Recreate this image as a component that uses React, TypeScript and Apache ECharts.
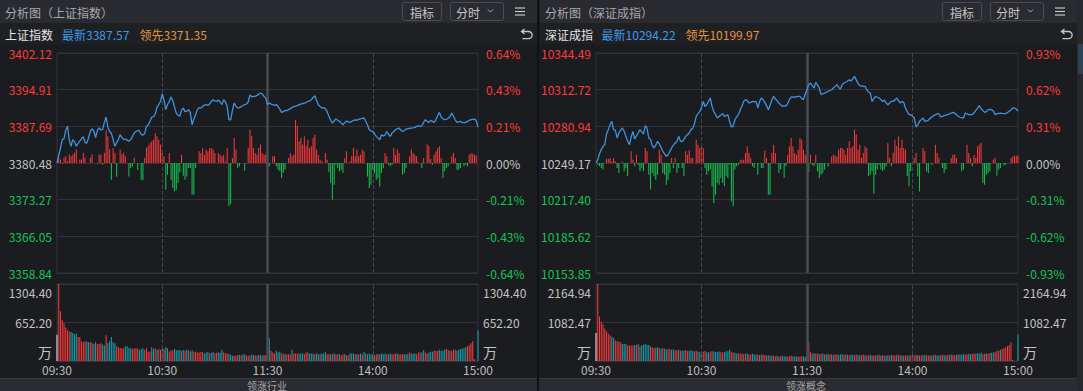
import React, { useEffect, useRef } from 'react';
import * as echarts from 'echarts';

const FONT = '"Noto Sans CJK SC","Noto Sans",sans-serif';
const RED = '#ff3a3a';
const GREEN = '#16c452';
const GRAY = '#c3c3c3';
const GRIDC = '#323338';

// ---------- categories ----------
const times: string[] = [];
const pad = (n: number) => (n < 10 ? '0' + n : '' + n);
for (let m = 0; m <= 120; m++) { const t = 570 + m; times.push(pad(Math.floor(t / 60)) + ':' + pad(t % 60)); }
for (let m = 1; m <= 120; m++) { const t = 780 + m; times.push(pad(Math.floor(t / 60)) + ':' + pad(t % 60)); }
const tickTimes = ['09:30', '10:30', '11:30', '14:00', '15:00'];
const dividerTimes = ['10:30', '11:30', '14:00'];

// ---------- texts ----------
const shTexts = { title: '分析图（上证指数）', name: '上证指数', latest: '3387.57', lead: '3371.35' };
const szTexts = { title: '分析图（深证成指）', name: '深证成指', latest: '10294.22', lead: '10199.97' };
const bottomTabs = ['领涨行业', '领涨概念'];

// ---------- axis extents ----------
const shPrevClose = 3380.48;
const shPointRange = 21.64;
const shPctRange = 0.64;
const shVolMax = 1304.40;
const szPrevClose = 10249.17;
const szPointRange = 95.32;
const szPctRange = 0.93;
const szVolMax = 2164.94;

// ---------- 上证 data ----------
// change vs previous close (points)
const shChange = [
  0, 1.5, 3.0, 4.6, 4.8, 6.5, 7.2, 4.5, 3.3, 4.6,
  4.2, 3.3, 3.8, 4.3, 4.8, 5.2, 4.0, 3.9, 5.0, 6.2,
  6.7, 6.3, 5.0, 6.4, 6.9, 6.5, 6.6, 8.0, 9.05, 7.0,
  6.2, 5.8, 4.6, 3.3, 4.0, 4.6, 5.6, 5.0, 4.6, 4.7,
  4.5, 4.3, 4.6, 5.2, 5.9, 6.2, 6.4, 6.3, 5.6, 5.5,
  5.8, 7.2, 7.5, 8.2, 9.0, 9.1, 9.6, 11.0, 11.5, 12.1,
  13.6, 12.4, 10.5, 11.5, 12.1, 13.0, 12.3, 11.0, 9.8, 9.4,
  9.2, 10.4, 10.8, 10.1, 10.2, 10.5, 9.9, 7.5, 8.6, 9.5,
  10.5, 10.9, 10.8, 11.1, 11.4, 11.5, 11.3, 11.6, 12.1, 12.45,
  12.2, 12.1, 12.4, 12.0, 11.5, 12.45, 12.0, 11.2, 8.5, 8.5,
  10.3, 11.8, 11.2, 10.8, 10.9, 11.1, 11.3, 11.5, 11.6, 12.0,
  13.4, 13.0, 13.1, 13.1, 13.3, 13.5, 13.77, 13.6, 13.1, 12.8,
  11.5, 11.8, 11.6, 11.5, 11.3, 11.5, 11.1, 10.6, 9.96, 10.1,
  10.3, 10.3, 10.5, 10.7, 10.9, 11.1, 11.2, 11.3, 11.47, 11.6,
  11.7, 11.8, 11.9, 12.1, 12.2, 12.45, 12.9, 13.24, 12.3, 11.47,
  11.1, 10.8, 10.9, 10.7, 10.1, 9.2, 8.4, 7.87, 8.3, 8.65,
  8.4, 8.2, 7.9, 7.53, 7.9, 8.3, 8.1, 8.0, 8.2, 8.4,
  8.5, 8.4, 8.6, 8.7, 8.8, 8.85, 8.2, 7.53, 6.55, 6.3,
  6.2, 5.8, 5.24, 4.9, 4.58, 5.57, 5.3, 5.5, 6.2, 5.6,
  5.24, 5.9, 6.2, 6.55, 6.7, 6.88, 6.5, 6.2, 6.4, 6.69,
  6.7, 6.8, 6.88, 6.9, 7.0, 7.2, 7.3, 7.2, 7.33, 8.0,
  8.52, 8.2, 8.0, 8.4, 8.2, 8.0, 8.5, 9.3, 9.96, 9.05,
  8.7, 8.52, 8.6, 8.8, 9.1, 9.83, 9.2, 8.5, 8.0, 8.1,
  8.2, 8.0, 7.9, 8.0, 8.2, 8.4, 8.52, 8.6, 8.65, 8.3,
  7.09,
];
// red/green momentum bars (%)
const shBars = [
  0, 0.03, 0.02, -0.005, 0.03, 0.04, 0.01, 0.05, 0.04, 0.05,
  0.06, 0.08, 0, 0.02, 0.02, 0.06, 0.03, 0, 0, 0.03,
  0.05, 0, 0, -0.005, 0.05, 0.05, -0.01, 0.06, 0.19, 0.155,
  0.08, -0.097, 0.087, 0.06, -0.08, 0, 0.078, 0.05, 0.06, 0.04,
  0, -0.078, -0.03, -0.02, 0.03, 0, -0.04, 0, -0.097, -0.1,
  0.03, 0.09, 0.1, 0.116, 0.126, 0.136, 0.175, 0.155, 0.136, 0.107,
  0.058, 0.039, -0.155, -0.068, 0.058, -0.097, -0.145, -0.165, -0.155, -0.116,
  -0.054, 0.048, -0.074, -0.097, -0.078, -0.029, -0.029, -0.184, -0.184, -0.029,
  0, 0.068, 0.058, 0.087, 0.048, 0.078, 0.068, 0.087, 0.087, 0.078,
  0.058, 0, 0.058, 0.048, 0.039, 0.048, 0.01, 0.087, -0.25, -0.24,
  0.029, 0.145, 0.078, -0.029, -0.019, 0, 0, -0.045, 0, 0.087,
  0.194, 0.155, 0.087, 0.058, 0.048, 0.087, 0.107, 0.058, 0.048, 0.05,
  0, -0.019, 0, 0.039, 0.039, -0.019, -0.039, -0.048, -0.087, -0.058,
  -0.039, 0, 0.029, 0.058, 0.039, 0.048, 0.252, 0.217, 0.126, 0.145,
  0.107, 0.155, 0.097, 0.136, 0.087, 0.097, 0.145, 0.165, 0.078, 0.048,
  0.019, 0.01, 0, 0.058, 0.019, -0.054, -0.116, -0.213, -0.126, -0.01,
  -0.029, -0.048, -0.039, -0.058, 0.029, 0.068, 0, 0.01, 0.039, 0.087,
  0.039, 0.078, 0.039, 0.048, 0.078, 0.068, 0, -0.078, -0.145, -0.126,
  -0.039, -0.058, -0.097, -0.087, -0.136, -0.058, -0.029, 0.058, 0.039, -0.01,
  -0.019, -0.01, 0.087, 0.048, 0.078, 0.058, 0, -0.068, -0.058, -0.029,
  0, 0.039, 0.078, 0.058, 0.048, 0.039, 0.005, 0, -0.029, 0.029,
  0, 0.107, 0.097, 0.023, -0.01, 0.048, 0.068, 0.087, 0.097, 0.029,
  -0.087, -0.048, -0.029, -0.019, 0, 0.039, 0.058, 0.029, -0.039, -0.039,
  -0.029, 0, -0.019, -0.01, -0.019, 0.048, 0.058, 0.054, 0.048, 0.043,
  0,
];
// volume (万)
const shVol = [
  446, 1304.4, 841, 696, 638, 568, 522, 500, 493, 475,
  452, 464, 406, 406, 336, 319, 330, 330, 319, 319,
  310, 290, 319, 290, 290, 301, 278, 261, 435, 301,
  336, 406, 319, 301, 249, 232, 214, 214, 214, 249,
  249, 220, 214, 203, 214, 214, 214, 186, 203, 214,
  186, 214, 162, 162, 232, 203, 214, 186, 203, 186,
  214, 203, 232, 214, 162, 180, 174, 203, 180, 180,
  186, 168, 186, 174, 191, 180, 162, 180, 157, 157,
  145, 145, 151, 157, 128, 145, 151, 133, 139, 151,
  133, 139, 145, 139, 191, 145, 133, 128, 116, 110,
  87, 87, 93, 99, 104, 99, 110, 116, 93, 87,
  93, 104, 99, 99, 87, 104, 99, 93, 99, 99,
  99, 388, 174, 145, 128, 174, 145, 157, 128, 128,
  116, 116, 116, 116, 191, 128, 128, 128, 128, 128,
  128, 116, 145, 145, 128, 128, 128, 116, 128, 116,
  116, 128, 128, 157, 116, 116, 116, 116, 128, 116,
  116, 116, 99, 116, 116, 99, 99, 128, 128, 128,
  116, 116, 116, 128, 116, 157, 128, 116, 128, 116,
  116, 99, 116, 116, 116, 128, 116, 128, 116, 116,
  128, 116, 116, 128, 128, 116, 116, 116, 116, 116,
  116, 145, 128, 128, 128, 116, 145, 145, 145, 186,
  145, 128, 145, 157, 157, 174, 174, 174, 191, 174,
  174, 191, 203, 191, 174, 174, 191, 191, 174, 191,
  203, 214, 214, 232, 250, 272, 301, 336, 29, 0,
  522,
];
// w = auction, r = up minute, t = down minute
const shVolColors = [
  'wrrrrrrrtt', 'ttrrrrrttr', 'rttrrrttrt', 'ttttrrrrrt', 'tttrrrrttt',
  'rrrrttrtrr', 'trttrrrttt', 'trtrtrttrr', 'rrrrtttrtt', 'rrtttrrrtt',
  'trrrtrttrr', 'rttrtrttrr', 'rtrrrtttrr', 'trrrtrrrtt', 'trrrtttrtt',
  'rtttrrtrtr', 'rtrrtrrttt', 'rtrtrttrtt', 'trrtrtttrt', 'trrrtrrrtt',
  'trtttrrrtt', 'rrtttrrrtt', 'ttrrtrrrtt', 'ttttrrrrrr', 't',
].join('');

// ---------- 深证 data ----------
const szChange = [
  0, 2.9, 8.0, 11.6, 14.4, 16.0, 25.4, 28.9, 33.2, 36.1,
  28.9, 28.5, 21.7, 26.0, 28.5, 30.3, 27.5, 23.1, 19.0, 15.9,
  22.5, 27.4, 20.8, 23.5, 26.0, 28.9, 27.0, 25.0, 32.3, 30.5,
  21.7, 20.5, 15.0, 13.0, 15.5, 18.8, 16.5, 13.5, 10.1, 8.0,
  5.8, 7.2, 10.0, 13.0, 15.5, 17.3, 18.7, 23.1, 19.0, 18.5,
  20.2, 23.1, 24.5, 26.0, 28.9, 30.0, 34.0, 40.4, 42.7, 44.8,
  48.0, 53.4, 49.0, 50.5, 53.4, 56.3, 49.1, 44.5, 41.9, 39.0,
  40.4, 41.5, 42.7, 40.5, 41.0, 41.9, 36.0, 31.2, 32.0, 37.5,
  40.0, 41.9, 46.0, 49.1, 53.4, 54.9, 54.0, 52.0, 52.5, 53.4,
  53.0, 53.4, 47.7, 53.0, 56.3, 55.0, 52.5, 49.5, 46.2, 50.0,
  54.5, 57.8, 55.5, 54.0, 52.0, 50.5, 49.1, 49.5, 49.3, 51.5,
  54.9, 57.2, 57.2, 56.8, 57.5, 57.8, 57.8, 56.0, 54.9, 60.0,
  63.5, 67.9, 69.3, 67.0, 65.0, 69.9, 67.5, 65.0, 59.2, 60.0,
  60.6, 61.5, 62.1, 62.8, 63.5, 65.0, 66.4, 67.9, 65.5, 64.1,
  67.9, 69.3, 70.0, 70.8, 72.2, 71.0, 73.0, 75.1, 72.0, 69.0,
  67.0, 66.7, 66.5, 66.4, 63.5, 61.5, 60.6, 53.4, 55.5, 57.8,
  57.0, 56.3, 55.0, 53.4, 54.5, 52.0, 50.5, 52.0, 53.4, 53.4,
  54.5, 56.3, 54.0, 52.0, 53.4, 52.5, 47.7, 44.5, 41.9, 41.9,
  40.5, 39.0, 31.2, 33.0, 36.1, 37.5, 39.0, 36.1, 36.5, 37.0,
  38.5, 39.9, 41.0, 41.9, 42.5, 42.7, 39.9, 40.5, 41.0, 41.5,
  41.9, 42.5, 43.3, 43.9, 43.0, 41.9, 40.5, 39.6, 39.3, 39.0,
  43.3, 42.5, 41.9, 42.0, 41.9, 43.5, 45.6, 47.5, 49.7, 47.0,
  45.6, 43.9, 44.5, 46.2, 46.5, 46.2, 45.0, 41.9, 42.5, 43.0,
  43.3, 43.0, 42.8, 42.7, 43.8, 44.8, 46.0, 47.7, 47.5, 46.8,
  45.05,
];
const szBars = [
  0, -0.014, -0.028, -0.042, -0.056, 0, 0.034, 0.034, 0.042, 0.01,
  0.042, 0.014, -0.042, -0.085, 0, 0.01, -0.07, -0.042, -0.113, 0,
  0.099, 0.028, -0.028, 0.07, -0.014, -0.07, -0.042, -0.07, 0.127, 0.099,
  -0.099, -0.225, -0.085, -0.113, -0.141, -0.099, 0.113, 0.07, -0.085, -0.099,
  -0.183, -0.141, -0.085, 0.042, -0.042, 0.042, -0.085, -0.042, 0, -0.042,
  -0.113, 0.099, 0.07, 0.107, 0.042, 0.042, 0, 0.197, 0.155, 0.127,
  0.141, 0.127, -0.042, -0.099, -0.07, -0.056, -0.197, -0.338, -0.268, -0.169,
  -0.183, -0.127, -0.169, -0.197, -0.113, -0.127, -0.014, -0.324, -0.366, -0.056,
  -0.028, -0.014, 0.023, 0.028, 0.028, 0.085, 0.141, 0.085, 0.042, -0.028,
  -0.042, 0, -0.099, 0, -0.042, -0.042, 0.104, 0.042, -0.268, -0.268,
  0.085, 0.155, 0.085, 0, -0.085, -0.056, 0, -0.127, -0.028, 0.07,
  0.141, 0.211, 0.141, 0.085, 0.07, 0.113, 0.211, 0.197, 0.113, 0.07,
  0.056, -0.079, 0.07, -0.014, -0.028, 0.07, -0.07, -0.127, -0.099, -0.085,
  -0.056, 0, -0.028, 0, 0.056, 0.07, 0.062, 0.056, 0.113, 0.127,
  0.127, 0.113, 0.07, 0.127, 0.183, 0.127, 0.141, 0.282, 0.24, 0.113,
  0.155, 0.042, 0.085, 0.141, 0.127, -0.113, -0.099, -0.07, -0.259, -0.099,
  -0.056, -0.014, -0.056, -0.07, -0.056, -0.028, 0.169, 0.042, -0.028, 0.085,
  0.197, 0.141, 0.225, 0.127, 0.197, 0.127, 0.113, -0.113, -0.197, -0.07,
  0, 0.042, 0.085, -0.113, -0.24, 0, 0.127, 0.099, -0.07, -0.085,
  0, -0.014, 0, 0.155, 0.085, 0.042, 0, -0.042, -0.085, -0.056,
  0, 0, 0.042, 0.07, 0.07, 0.042, 0, 0, -0.07, -0.056,
  0, 0.155, 0.085, 0.042, -0.028, 0.07, 0.042, 0.141, 0.155, 0.169,
  -0.169, -0.183, -0.099, -0.085, -0.07, 0, 0.028, 0.042, -0.107, -0.056,
  -0.042, 0, -0.022, -0.014, 0, 0, 0.042, 0.056, 0.062, 0.062,
  0.062,
];
const szVol = [
  789, 2164.94, 1251, 1107, 1030, 914, 837, 770, 722, 683,
  654, 577, 558, 548, 529, 481, 481, 481, 433, 433,
  433, 433, 452, 452, 481, 414, 433, 452, 481, 452,
  452, 414, 385, 366, 375, 385, 366, 346, 366, 346,
  327, 337, 346, 317, 327, 298, 308, 317, 298, 289,
  298, 308, 279, 289, 298, 279, 269, 289, 260, 250,
  269, 260, 279, 250, 240, 260, 279, 269, 250, 260,
  269, 250, 240, 250, 269, 279, 318, 260, 240, 231,
  212, 221, 202, 212, 193, 202, 212, 183, 193, 202,
  183, 173, 183, 164, 173, 183, 164, 154, 164, 145,
  154, 145, 135, 145, 125, 135, 145, 125, 135, 125,
  135, 145, 125, 135, 125, 116, 125, 135, 125, 116,
  125, 510, 260, 212, 221, 202, 212, 193, 202, 212,
  183, 193, 202, 183, 193, 173, 183, 193, 173, 183,
  193, 173, 183, 173, 164, 183, 173, 164, 183, 164,
  173, 164, 183, 164, 154, 164, 173, 154, 164, 154,
  164, 173, 154, 164, 154, 145, 164, 154, 173, 164,
  154, 164, 173, 154, 164, 145, 154, 164, 154, 164,
  164, 154, 173, 164, 154, 164, 154, 173, 164, 154,
  164, 154, 164, 173, 164, 154, 164, 173, 164, 164,
  173, 164, 183, 173, 164, 173, 183, 173, 183, 193,
  183, 193, 202, 193, 202, 212, 202, 221, 212, 231,
  193, 202, 212, 202, 221, 231, 240, 260, 279, 298,
  318, 337, 356, 385, 420, 452, 530, 29, 0, 0,
  741,
];
const szVolColors = [
  'wrrrrrrrrt', 'trrrrtttrr', 'rrtrtrtttt', 'trrrttrtrt', 'trrttrrtrt',
  'trrtttrrtt', 'trrttrrttt', 'trrttttrrt', 'trrrtrtrrt', 'ttrrtrrtrt',
  'trrtrrtttr', 'rrttrtrrtt', 'trrttrrtrt', 'rttrrtrrtt', 'trrtrttrrt',
  'trrtrrttrr', 'trtrrttrtr', 'rtrrttrrtr', 'trrtrrttrr', 'trtrttrrtt',
  'rrtrrtrttt', 'rrttrrrttt', 'rrtrrttrrr', 'trrrrrrrrr', 't',
].join('');

// ---------- custom icon ----------
echarts.graphic.registerShape(
  'undoIcon',
  echarts.graphic.extendPath('M3.5 0 L0.5 2.5 L3.5 5 M0.8 2.5 L7.5 2.5 A3.6 3.6 0 0 1 7.5 9.7 L1.5 9.7', {}) as any
);

const VOL_COLOR: Record<string, string> = { w: '#f2f2f2', r: '#ff3b3b', t: '#10a6b6' };

type Panel = {
  change: number[]; bars: number[]; vol: number[]; volColors: string;
  base: number; range: number; pct: number; volMax: number;
  left: number; width: number;
};

const dividerLines = () =>
  dividerTimes.map((t) => ({
    xAxis: t,
    lineStyle: t === '11:30'
      ? { type: 'solid', color: '#4b4c51', width: 2.5 }
      : { type: [4, 2], color: '#46474c', width: 1 },
  }));

const markLineCfg = () => ({
  symbol: 'none', silent: true, label: { show: false },
  emphasis: { disabled: true }, animation: false, data: dividerLines(),
});

function buildPanel(p: Panel, gi: number) {
  const priceStep = p.range / 3;
  const pctStep = p.pct / 3;
  const volStep = p.volMax / 2;
  const xi = gi * 2;
  const yi = gi * 4;
  const signColor = (v: any) => {
    const n = parseFloat(v);
    return n > 0.01 ? RED : n < -0.01 ? GREEN : GRAY;
  };
  const grids = [
    { left: p.left, top: 53, width: p.width, height: 220, show: true, borderColor: GRIDC, borderWidth: 1, backgroundColor: 'transparent' },
    { left: p.left, top: 284, width: p.width, height: 77, show: true, borderColor: GRIDC, borderWidth: 1, backgroundColor: 'transparent' },
  ];
  const xBase = {
    type: 'category', data: times, boundaryGap: false,
    axisLine: { show: false }, axisTick: { show: false }, splitLine: { show: false },
  };
  const xAxes = [
    { ...xBase, gridIndex: xi, axisLabel: { show: false } },
    {
      ...xBase, gridIndex: xi + 1,
      axisLabel: {
        show: true, interval: (_i: number, v: string) => tickTimes.includes(v),
        color: '#bdbdbd', fontSize: 12, fontFamily: FONT, margin: 2, lineHeight: 13,
        showMinLabel: true, showMaxLabel: true,
      },
    },
  ];
  const yCommon = {
    type: 'value', axisLine: { show: false }, axisTick: { show: false },
  };
  const volRich = {
    t: { padding: [17, 0, 0, 0], fontSize: 12, color: GRAY, fontFamily: FONT },
    u: { padding: [0, 0, 19, 0], fontSize: 14, color: GRAY, fontFamily: FONT },
  };
  const volFmt = (v: number) => {
    const k = Math.round(v);
    if (k === 0) return '{u|万}';
    if (k === 2) return '{t|' + p.volMax.toFixed(2) + '}';
    return (volStep).toFixed(2);
  };
  const yAxes = [
    {
      ...yCommon, gridIndex: xi, position: 'left', min: -3, max: 3, interval: 1,
      splitLine: { show: true, lineStyle: { color: GRIDC } },
      axisLabel: {
        margin: 5, fontSize: 12, fontFamily: FONT,
        formatter: (v: number) => (p.base + Math.round(v) * priceStep).toFixed(2),
        color: signColor,
      },
    },
    {
      ...yCommon, gridIndex: xi, position: 'right', min: -3, max: 3, interval: 1,
      splitLine: { show: false },
      axisLabel: {
        margin: 8, fontSize: 12, fontFamily: FONT,
        formatter: (v: number) => (Math.round(v) * pctStep).toFixed(2) + '%',
        color: signColor,
      },
    },
    {
      ...yCommon, gridIndex: xi + 1, position: 'left', min: 0, max: 2, interval: 1,
      splitLine: { show: true, lineStyle: { color: GRIDC } },
      axisLabel: { margin: 5, fontSize: 12, fontFamily: FONT, color: GRAY, formatter: volFmt, rich: volRich, showMinLabel: true, showMaxLabel: true },
    },
    {
      ...yCommon, gridIndex: xi + 1, position: 'right', min: 0, max: 2, interval: 1,
      splitLine: { show: false },
      axisLabel: { margin: 5, fontSize: 12, fontFamily: FONT, color: GRAY, formatter: volFmt, rich: volRich, showMinLabel: true, showMaxLabel: true },
    },
  ];
  const series = [
    {
      type: 'bar', xAxisIndex: xi, yAxisIndex: yi, barWidth: 1, clip: false,
      data: p.bars.map((v) => v / pctStep),
      itemStyle: { color: (q: any) => (q.value >= 0 ? RED : GREEN) },
      markLine: markLineCfg(), z: 2,
    },
    {
      type: 'line', xAxisIndex: xi, yAxisIndex: yi, showSymbol: false, symbol: 'none',
      data: p.change.map((v) => v / priceStep),
      lineStyle: { color: '#3f93dd', width: 1.3 }, z: 5,
    },
    {
      type: 'bar', xAxisIndex: xi + 1, yAxisIndex: yi + 2, barWidth: 1, clip: false,
      data: p.vol.map((v) => v / volStep),
      itemStyle: { color: (q: any) => VOL_COLOR[p.volColors[q.dataIndex]] || VOL_COLOR.r },
      markLine: markLineCfg(), z: 2,
    },
  ];
  return { grids, xAxes, yAxes, series };
}

const txt = (x: number, y: number, text: string, fill: string, size = 12, align = 'left') => ({
  type: 'text', x, y, silent: true,
  style: { text, fill, fontSize: size, fontFamily: FONT, align, verticalAlign: 'middle', textAlign: align, textVerticalAlign: 'middle' },
});

function header(x0: number, w: number, t: typeof shTexts, latestX: number, leadX: number) {
  const btn = (x: number, width: number) => ({
    type: 'rect', shape: { x: x0 + x, y: 2.5, width, height: 18, r: 2 },
    style: { fill: '#2a2b30', stroke: '#4b4c51', lineWidth: 1 },
  });
  const bar = (y: number) => ({
    type: 'line', shape: { x1: x0 + 515, y1: y, x2: x0 + 525, y2: y },
    style: { stroke: '#c4c4c4', lineWidth: 1.2 },
  });
  return [
    { type: 'rect', shape: { x: x0, y: 0, width: w, height: 23 }, style: { fill: '#2a2b30' } },
    { type: 'rect', shape: { x: x0, y: 23, width: w, height: 21 }, style: { fill: '#1f2024' } },
    txt(x0 + 5, 12, t.title, '#a6a7ab'),
    btn(402.5, 39), txt(x0 + 422, 12, '指标', '#c8c8c8', 12, 'center'),
    btn(450.5, 53), txt(x0 + 468, 12, '分时', '#c8c8c8', 12, 'center'),
    {
      type: 'polyline', shape: { points: [[x0 + 488, 9.5], [x0 + 490.5, 12], [x0 + 493, 9.5]] },
      style: { stroke: '#b0b0b0', lineWidth: 1, fill: 'none' },
    },
    bar(8), bar(11.5), bar(15),
    txt(x0 + 5, 34, t.name, '#e4e4e4'),
    txt(latestX, 34, '最新' + t.latest, '#3d9ae8'),
    txt(leadX, 34, '领先' + t.lead, '#e3953b'),
    { type: 'undoIcon', x: x0 + 521, y: 29, style: { stroke: '#c8c8c8', lineWidth: 1.3, fill: 'none' } },
  ];
}

function buildOption() {
  const sh = buildPanel({
    change: shChange, bars: shBars, vol: shVol, volColors: shVolColors,
    base: shPrevClose, range: shPointRange, pct: shPctRange, volMax: shVolMax,
    left: 57, width: 421,
  }, 0);
  const sz = buildPanel({
    change: szChange, bars: szBars, vol: szVol, volColors: szVolColors,
    base: szPrevClose, range: szPointRange, pct: szPctRange, volMax: szVolMax,
    left: 596, width: 422,
  }, 1);
  const graphics: any[] = [
    ...header(0, 537, shTexts, 62, 139.5),
    ...header(540, 537, szTexts, 601.6, 685.4),
    { type: 'rect', shape: { x: 0, y: 378, width: 1083, height: 13 }, style: { fill: '#2b2c31' } },
    { type: 'line', shape: { x1: 0, y1: 378.5, x2: 1077, y2: 378.5 }, style: { stroke: '#3a3b40', lineWidth: 1 } },
    txt(267, 385, bottomTabs[0], '#a9a9a9', 10, 'center'),
    txt(806, 385, bottomTabs[1], '#a9a9a9', 10, 'center'),
    { type: 'rect', shape: { x: 537, y: 0, width: 2, height: 391 }, style: { fill: '#111215' } },
    { type: 'rect', shape: { x: 1077, y: 0, width: 6, height: 391 }, style: { fill: '#27282d' } },
    { type: 'rect', shape: { x: 1078, y: 44, width: 5, height: 30 }, style: { fill: '#2c4257' } },
  ];
  return {
    animation: false,
    backgroundColor: '#1b1c20',
    textStyle: { fontFamily: FONT },
    grid: [...sh.grids, ...sz.grids],
    xAxis: [...sh.xAxes, ...sz.xAxes],
    yAxis: [...sh.yAxes, ...sz.yAxes],
    series: [...sh.series, ...sz.series],
    graphic: { elements: graphics },
  };
}

export default function App() {
  const ref = useRef<HTMLDivElement>(null);
  useEffect(() => {
    if (!ref.current) return;
    const chart = echarts.init(ref.current, null, { renderer: 'svg' });
    chart.setOption(buildOption() as any);
    return () => chart.dispose();
  }, []);
  return (
    <div
      ref={ref}
      style={{ position: 'fixed', left: 0, top: 0, width: 1083, height: 391 }}
    />
  );
}
